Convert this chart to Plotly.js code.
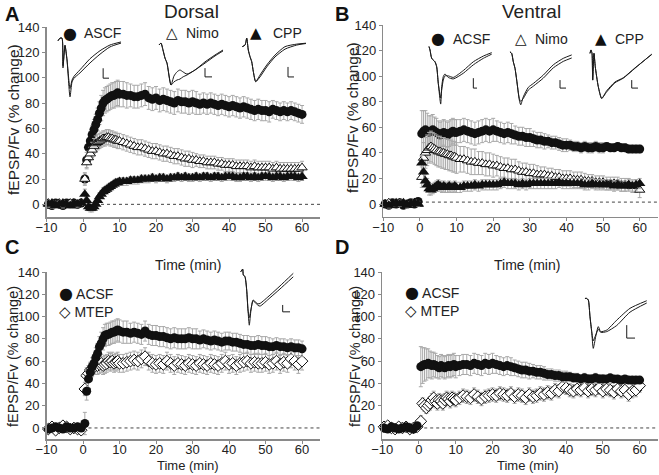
<!DOCTYPE html>
<html><head><meta charset="utf-8">
<script src="https://cdn.plot.ly/plotly-3.0.1.min.js"></script>
<style>html,body{margin:0;padding:0;background:#fff}#plot{width:659px;height:475px}</style>
</head><body><div id="plot"></div>
<script>
// ---- time axis (min) ----
const T = [-9.5,-8.5,-7.5,-6.5,-5.5,-4.5,-3.5,-2.5,-1.5,-0.5,
 0.5,1,1.5,2,2.5,3,3.5,4,4.5,5, 5.5,6,6.5,7,7.5,8,8.5,9,9.5,10,
 11,12,13,14,15,16,17,18,19,20, 21,22,23,24,25,26,27,28,29,30,
 31,32,33,34,35,36,37,38,39,40, 41,42,43,44,45,46,47,48,49,50,
 51,52,53,54,55,56,57,58,59,60];
const xTicks = [-10,0,10,20,30,40,50,60];
const yTicks = [0,20,40,60,80,100,120,140];

// ---- Panel A: Dorsal ----
const A_ascf = [0,-1,1,0,-1,1,0,1,0,1, 20,35,45,50,55,59,63,67,72,76, 80,82,83,84,85,86,86,87,88,87, 87,86,86,85,85,86,87,84,83,84, 82,83,82,81,80,82,81,81,80,81, 80,79,80,79,80,79,78,79,78,77, 78,77,76,77,76,75,74,75,74,74, 73,75,74,73,74,73,74,73,72,71];
const A_ascf_err = [2,2,2,2,2,2,2,2,2,2, 5,6,6,7,7,8,8,9,9,10, 10,10,10,10,10,10,10,10,10,10, 10,10,9,9,9,9,9,9,9,9, 9,9,9,9,9,9,9,9,9,9, 9,8,8,8,8,8,8,8,8,8, 8,8,8,8,8,8,8,8,8,8, 8,7,7,7,7,7,7,7,7,7];
const A_nimo = [1,-1,0,1,-1,0,1,-1,0,1, 20,33,37,40,43,46,48,49,50,51, 52,52,53,53,52,52,51,51,50,50, 49,48,47,46,45,45,44,43,42,42, 41,40,40,39,38,38,37,36,36,35, 35,34,34,33,33,33,32,32,31,31, 31,30,30,30,30,29,30,29,29,29, 29,28,29,28,28,28,28,28,28,29];
const A_nimo_err = [2,2,2,2,2,2,2,2,2,2, 4,5,5,5,6,6,6,6,6,6, 6,6,6,6,6,6,6,6,6,6, 6,6,6,6,6,6,6,6,6,6, 6,6,6,6,6,6,6,6,6,6, 5,5,5,5,5,5,5,5,5,5, 5,5,5,5,5,5,5,5,5,5, 5,5,5,5,5,5,5,5,5,5];
const A_cpp = [0,1,-1,0,1,0,-1,1,0,1, 8,3,-2,-3,-3,-2,0,3,6,8, 10,11,12,13,14,15,16,17,17,18, 18,18,19,19,19,20,20,20,21,20, 21,21,20,21,21,22,21,22,21,21, 22,21,22,22,21,22,22,21,22,22, 22,21,21,22,22,21,22,21,22,22, 22,21,22,22,21,22,22,22,21,22];
const A_cpp_err = [2,2,2,2,2,2,2,2,2,2, 4,3,3,3,3,3,3,3,3,3, 3,3,3,3,3,3,3,3,3,3, 3,3,3,3,3,3,3,3,3,3, 3,3,3,3,3,3,3,3,3,3, 3,3,3,3,3,3,3,3,3,3, 3,3,3,3,3,3,3,3,3,3, 3,3,3,3,3,3,3,3,3,3];

// ---- Panel B: Ventral ----
const B_acsf = [0,-1,1,0,1,-1,0,1,0,2, 55,57,58,57,56,57,58,57,56,55, 54,55,56,55,54,55,56,57,56,56, 57,58,57,56,55,56,57,58,57,58, 57,56,55,56,55,54,53,53,52,52, 51,50,50,49,49,48,48,47,46,46, 46,45,45,44,45,44,44,45,44,44, 45,44,44,45,44,44,43,43,43,43];
const B_acsf_err = [2,2,2,2,2,2,2,2,2,2, 18,16,15,14,13,12,12,11,11,10, 10,10,10,10,10,10,10,10,10,10, 9,9,9,9,9,9,9,9,9,9, 8,8,8,8,8,7,7,7,7,7, 6,6,6,6,5,5,5,5,5,5, 4,4,4,4,4,4,4,4,4,4, 3,3,3,3,3,3,3,3,3,3];
const B_nimo = [0,1,-1,0,1,0,-1,0,1,0, 21,36,40,42,44,45,44,43,42,41, 41,40,40,39,39,38,38,37,37,36, 35,35,34,33,33,32,32,31,31,30, 30,29,28,28,27,27,26,25,25,24, 24,23,23,23,22,22,21,21,20,20, 20,19,19,19,18,18,18,17,17,17, 16,16,16,16,15,15,15,14,14,11];
const B_nimo_err = [2,2,2,2,2,2,2,2,2,2, 8,12,12,12,12,12,12,12,12,12, 12,12,12,12,12,12,12,12,12,12, 10,10,10,10,10,9,9,9,9,9, 8,8,8,8,8,8,7,7,7,7, 7,7,6,6,6,6,6,6,6,6, 6,6,6,6,6,5,5,5,5,5, 5,5,5,5,5,5,5,5,5,6];
const B_cpp = [0,-1,0,1,0,1,-1,0,1,0, 32,25,18,15,12,11,12,13,14,15, 14,13,14,13,13,14,13,13,14,13, 13,14,14,14,15,14,15,15,15,15, 15,16,17,16,16,16,15,16,15,16, 16,16,16,16,16,16,16,17,16,16, 16,16,16,16,15,15,16,15,15,15, 15,15,14,15,14,14,15,14,15,16];
const B_cpp_err = [2,2,2,2,2,2,2,2,2,2, 6,6,5,5,5,4,4,4,4,4, 4,4,4,4,4,4,4,4,4,4, 4,4,4,4,4,4,4,4,4,4, 4,4,4,4,4,4,4,4,4,4, 4,4,4,4,4,4,4,4,4,4, 4,4,4,4,4,4,4,4,4,4, 4,4,4,4,4,4,4,4,4,4];

// ---- Panel C: Dorsal MTEP ----
const C_acsf = [-1,0,1,0,-1,1,0,0,1,0, 4,33,44,50,55,58,63,67,73,76, 80,83,84,84,85,86,86,87,88,87, 86,86,85,86,85,84,87,84,83,83, 82,82,81,80,81,80,80,80,81,80, 80,79,80,79,78,79,78,77,78,78, 77,77,76,75,75,74,74,75,74,74, 73,73,74,73,73,72,73,72,72,71];
const C_acsf_err = [2,2,2,2,2,2,2,2,2,2, 10,8,8,8,8,8,9,9,9,10, 10,10,10,10,10,10,10,10,10,10, 10,10,9,9,9,9,9,9,9,9, 9,9,9,9,9,9,9,9,9,9, 9,8,8,8,8,8,8,8,8,8, 8,8,8,8,8,8,8,8,8,8, 8,7,7,7,7,7,7,7,7,7];
const C_mtep = [-1,1,-2,0,2,1,-1,0,-1,-2, 35,47,49,52,53,55,56,56,57,58, 56,57,58,60,59,60,58,59,60,58, 58,59,60,61,60,62,64,60,58,57, 58,57,60,58,56,58,57,56,58,57, 56,58,57,56,58,57,56,58,60,57, 58,56,58,59,60,58,59,58,58,59, 57,58,60,57,59,58,62,60,57,60];
const C_mtep_err = [3,3,3,3,3,3,3,3,3,3, 6,7,7,7,7,7,8,8,8,8, 8,8,8,8,8,8,8,8,8,8, 8,8,8,8,8,8,8,8,8,8, 8,8,8,8,8,8,8,8,8,8, 8,8,8,8,8,8,8,8,8,8, 8,8,8,8,8,8,8,8,8,8, 8,8,8,8,8,8,8,8,8,8];

// ---- Panel D: Ventral MTEP ----
const D_acsf = [0,-1,1,0,-1,0,1,0,-1,2, 55,56,57,57,58,57,56,57,56,55, 54,56,55,54,55,56,55,56,57,55, 56,57,57,56,58,57,56,58,57,58, 57,56,55,56,55,54,53,52,52,51, 51,50,50,49,48,48,47,47,46,46, 46,45,45,44,45,44,44,45,44,44, 44,45,44,44,43,44,43,43,43,43];
const D_acsf_err = [2,2,2,2,2,2,2,2,2,2, 18,16,15,14,13,12,12,11,11,10, 10,10,10,10,10,10,10,10,10,10, 9,9,9,9,9,9,9,9,9,9, 8,8,8,8,8,7,7,7,7,7, 6,6,6,6,5,5,5,5,5,5, 4,4,4,4,4,4,4,4,4,4, 3,3,3,3,3,3,3,3,3,3];
const D_mtep = [1,2,0,-1,1,0,1,-1,0,1, 6,22,20,18,20,22,25,27,24,22, 25,24,22,25,27,26,24,27,26,25, 27,29,28,27,30,28,26,28,29,30, 29,31,30,29,31,28,30,29,27,30, 28,29,31,30,32,31,34,33,37,36, 34,33,35,34,36,33,35,34,36,33, 35,34,32,35,33,34,30,33,34,38];
const D_mtep_err = [2,2,2,2,2,2,2,2,2,2, 5,5,5,5,5,6,6,6,6,6, 6,6,6,6,6,6,6,6,6,6, 6,6,6,6,6,6,6,6,6,6, 6,6,6,6,6,6,6,6,6,6, 6,6,6,6,6,6,6,6,6,6, 6,6,6,6,6,6,6,6,6,6, 6,6,6,6,6,6,6,6,6,6];

// ---- inset waveforms (ms, mV) ----
const insA1_t = [0.15,0.46,0.77,0.92,1.23,1.54,2.0,2.31,2.62,3.54,5.08,6.62,8.15,9.85];
const insA1_post = [0,0.07,0.07,-0.71,-0.11,-0.5,-1.47,-1.08,-0.98,-0.84,-0.58,-0.35,-0.16,-0.06];
const insA1_pre = [0,0.07,0.07,-0.65,-0.13,-0.5,-1.25,-1.03,-0.93,-0.76,-0.47,-0.26,-0.11,-0.03];
const sbA1_t = [7.1,7.1,8.0], sbA1_v = [-0.72,-0.98,-0.98];
const insA2_t = [0.29,0.59,0.88,1.18,1.47,2.06,2.5,2.94,3.38,3.82,4.41,5.59,7.06,8.53,9.71];
const insA2_post = [-0.06,0.0,-0.22,-0.48,-0.64,-1.34,-1.05,-0.92,-0.86,-0.92,-0.99,-0.86,-0.6,-0.38,-0.22];
const insA2_pre = [-0.06,0.0,-0.22,-0.48,-0.64,-1.34,-1.24,-1.18,-1.15,-1.08,-1.02,-0.86,-0.64,-0.41,-0.25];
const sbA2_t = [7.06,7.06,8.09], sbA2_v = [-0.8,-1.08,-1.08];
const insA3_t = [0.34,0.74,0.99,1.22,1.47,1.72,1.96,2.31,2.94,3.93,5.15,6.62,8.34,9.7];
const insA3_post = [-0.24,-0.19,0.03,-0.35,-0.56,-0.72,-1.04,-1.36,-1.15,-0.83,-0.51,-0.24,-0.16,-0.13];
const insA3_pre = [-0.24,-0.19,0.03,-0.35,-0.56,-0.72,-1.04,-1.36,-1.21,-0.89,-0.57,-0.32,-0.19,-0.14];
const sbA3_t = [7.06,7.06,7.94], sbA3_v = [-0.89,-1.21,-1.21];
const insB1_t = [0.44,0.59,0.84,1.32,1.57,1.81,2.16,2.31,2.54,2.79,3.28,4.01,5.49,6.96,8.43,9.66];
const insB1_post = [0.06,-0.03,-0.25,-0.34,-0.47,-0.91,-1.45,-0.99,-0.73,-0.66,-0.75,-0.79,-0.64,-0.42,-0.25,-0.14];
const insB1_pre = [0.06,-0.03,-0.25,-0.34,-0.47,-0.91,-1.29,-1.08,-0.82,-0.71,-0.71,-0.75,-0.57,-0.34,-0.19,-0.1];
const sbB1_t = [6.96,6.96,7.5], sbB1_v = [-0.77,-1.03,-1.03];
const insB2_t = [0.29,0.54,0.78,1.03,1.28,1.66,1.87,2.25,2.99,3.72,5.19,6.66,8.13,9.37];
const insB2_post = [-0.08,-0.12,-0.34,-0.51,-0.82,-1.34,-1.47,-1.26,-1.01,-0.91,-0.69,-0.42,-0.25,-0.16];
const insB2_pre = [-0.08,-0.12,-0.34,-0.51,-0.82,-1.3,-1.38,-1.3,-1.08,-0.98,-0.77,-0.5,-0.33,-0.24];
const sbB2_t = [7.65,7.65,8.53], sbB2_v = [-0.82,-1.03,-1.03];
const insB3_t = [0.29,0.44,0.59,0.69,0.88,1.07,1.51,2.01,2.75,3.97,5.19,6.91,9.37];
const insB3_post = [-0.12,-0.03,-0.12,-0.82,-0.12,-0.47,-0.99,-1.3,-1.13,-0.89,-0.77,-0.51,-0.14];
const insB3_pre = [-0.12,-0.03,-0.12,-0.82,-0.12,-0.47,-0.99,-1.3,-1.1,-0.87,-0.76,-0.5,-0.15];
const sbB3_t = [6.43,6.43,7.35], sbB3_v = [-0.82,-1.03,-1.03];
const insC_t = [0.4,0.69,0.78,1.03,1.28,1.47,1.66,1.91,2.21,2.5,2.94,3.24,4.71,6.18,8.13];
const insC_post = [0.0,0.07,-0.08,-0.13,-0.48,-1.0,-1.4,-1.0,-0.74,-0.78,-0.84,-0.83,-0.61,-0.37,-0.04];
const insC_pre = [0.0,0.07,-0.08,-0.13,-0.48,-1.0,-1.2,-0.98,-0.76,-0.8,-0.88,-0.9,-0.68,-0.45,-0.13];
const sbC_t = [6.57,6.57,7.65], sbC_v = [-0.87,-1.05,-1.05];
const insD_t = [0.29,0.54,0.78,1.03,1.28,1.51,1.87,2.25,2.6,3.49,4.96,6.91,9.37];
const insD_post = [0.01,0.01,-0.03,-0.47,-0.86,-1.3,-0.99,-0.73,-0.86,-0.82,-0.56,-0.25,-0.05];
const insD_pre = [0.01,0.01,-0.03,-0.47,-0.86,-1.1,-0.95,-0.8,-0.88,-0.86,-0.7,-0.35,-0.11];
const sbD_t = [6.43,6.43,7.65], sbD_v = [-0.69,-1.03,-1.03];

// ---- build ----
const W = 659, H = 475;
const px = p => p / W, py = p => 1 - p / H;
const FONT = 'Arial, "Liberation Sans", Helvetica, sans-serif';
const ERRC = '#a8a8a8';
const traces = [];

function series(ax, y, err, sym, fill, size) {
  traces.push({
    type: 'scatter', mode: 'markers', x: T, y: y,
    xaxis: 'x' + (ax === 1 ? '' : ax), yaxis: 'y' + (ax === 1 ? '' : ax),
    error_y: {type: 'data', array: err, visible: true, color: ERRC, thickness: 1, width: 2},
    marker: {symbol: sym, size: size, color: fill, line: {color: '#111', width: fill === '#111' ? 0 : 1}},
    hoverinfo: 'skip', cliponaxis: false
  });
}
series(1, A_ascf, A_ascf_err, 'circle', '#111', 9);
series(1, A_nimo, A_nimo_err, 'triangle-up', '#fff', 9);
series(1, A_cpp, A_cpp_err, 'triangle-up', '#111', 10);
series(2, B_acsf, B_acsf_err, 'circle', '#111', 9);
series(2, B_nimo, B_nimo_err, 'triangle-up', '#fff', 9);
series(2, B_cpp, B_cpp_err, 'triangle-up', '#111', 10);
series(3, C_mtep, C_mtep_err, 'diamond', '#fff', 9);
series(3, C_acsf, C_acsf_err, 'circle', '#111', 9);
series(4, D_mtep, D_mtep_err, 'diamond', '#fff', 9);
series(4, D_acsf, D_acsf_err, 'circle', '#111', 9);

const insets = [
  {box:[57,122,37,98], t:insA1_t, a:insA1_pre, b:insA1_post, st:sbA1_t, sv:sbA1_v},
  {box:[157,225,40,90], t:insA2_t, a:insA2_pre, b:insA2_post, st:sbA2_t, sv:sbA2_v},
  {box:[240,308,36,86], t:insA3_t, a:insA3_pre, b:insA3_post, st:sbA3_t, sv:sbA3_v},
  {box:[426,494,45,106], t:insB1_t, a:insB1_pre, b:insB1_post, st:sbB1_t, sv:sbB1_v},
  {box:[508,576,45,106], t:insB2_t, a:insB2_pre, b:insB2_post, st:sbB2_t, sv:sbB2_v},
  {box:[588,656,45,106], t:insB3_t, a:insB3_pre, b:insB3_post, st:sbB3_t, sv:sbB3_v},
  {box:[238,306,268,329], t:insC_t, a:insC_pre, b:insC_post, st:sbC_t, sv:sbC_v},
  {box:[583,651,295,356], t:insD_t, a:insD_pre, b:insD_post, st:sbD_t, sv:sbD_v}
];

const axisBase = {
  showline: true, linecolor: '#8a8a8a', linewidth: 1.5, ticks: 'outside', ticklen: 3,
  tickcolor: '#8a8a8a', tickwidth: 1, showgrid: false, zeroline: false,
  tickfont: {family: FONT, size: 13, color: '#222'}, fixedrange: true
};
const layout = {
  width: W, height: H, margin: {l:0, r:0, t:0, b:0},
  paper_bgcolor: '#fff', plot_bgcolor: 'rgba(0,0,0,0)', showlegend: false,
  font: {family: FONT, color: '#222'},
  shapes: [], annotations: []
};
function mkAxes(n, xd, yd, yr) {
  const s = n === 1 ? '' : n;
  layout['xaxis' + s] = Object.assign({}, axisBase, {domain: xd, range: [-10, 65], tickvals: xTicks, anchor: 'y' + s, ticklabelstandoff: -5});
  layout['yaxis' + s] = Object.assign({}, axisBase, {domain: yd, range: yr, tickvals: yTicks, anchor: 'x' + s});
}
mkAxes(1, [px(46.5), px(320.3)], [py(217), py(27)], [-10, 140]);
mkAxes(2, [px(383.3), px(658)], [py(216.8), py(25)], [-10, 140]);
mkAxes(3, [px(46.5), px(320.3)], [py(439.1), py(272)], [-10, 140]);
mkAxes(4, [px(382.2), px(658)], [py(439.1), py(272)], [-10, 140]);

// inset axes
insets.forEach((ins, i) => {
  const n = 5 + i;
  layout['xaxis' + n] = {domain: [px(ins.box[0]), px(ins.box[1])], range: [0, 10], visible: false, fixedrange: true, anchor: 'y' + n};
  layout['yaxis' + n] = {domain: [py(ins.box[3]), py(ins.box[2])], range: [-1.5, 0.1], visible: false, fixedrange: true, anchor: 'x' + n};
  [ins.a, ins.b].forEach(v => traces.push({type:'scatter', mode:'lines', x: ins.t, y: v, xaxis:'x'+n, yaxis:'y'+n,
    line:{color:'#1a1a1a', width:1, shape:'spline', smoothing:0.6}, hoverinfo:'skip'}));
  traces.push({type:'scatter', mode:'lines', x: ins.st, y: ins.sv, xaxis:'x'+n, yaxis:'y'+n,
    line:{color:'#1a1a1a', width:1}, hoverinfo:'skip'});
});

// dotted zero lines
[[1,0,0],[2,0,1.5],[3,-10,0],[4,-10,0]].forEach(([n, x0, y0]) => {
  const s = n === 1 ? '' : n;
  layout.shapes.push({type:'line', xref:'x'+s, yref:'y'+s, x0:x0, x1:65, y0:y0, y1:y0,
    line:{color:'#444', width:1, dash:'dot'}, layer:'below'});
});

function ann(text, x, y, opts) {
  layout.annotations.push(Object.assign({text: text, x: px(x), y: py(y), xref:'paper', yref:'paper',
    showarrow:false, xanchor:'center', yanchor:'middle', font:{family:FONT, size:13, color:'#222'}}, opts || {}));
}
// panel letters & titles
ann('<b>A</b>', 12, 14, {font:{family:FONT, size:20, color:'#111'}});
ann('<b>B</b>', 342, 14, {font:{family:FONT, size:20, color:'#111'}});
ann('<b>C</b>', 12, 247, {font:{family:FONT, size:20, color:'#111'}});
ann('<b>D</b>', 342, 247, {font:{family:FONT, size:20, color:'#111'}});
ann('Dorsal', 191, 11, {font:{family:FONT, size:19, color:'#222'}});
ann('Ventral', 531, 11, {font:{family:FONT, size:19, color:'#222'}});
// y titles
ann('fEPSP/Fv (% change)', 13, 120, {textangle:-90, font:{family:FONT, size:15.5, color:'#222'}});
ann('fEPSP/Fv (% change)', 352, 118, {textangle:-90, font:{family:FONT, size:15.5, color:'#222'}});
ann('fEPSP/Fv (% change)', 13, 357, {textangle:-90, font:{family:FONT, size:14.5, color:'#222'}});
ann('fEPSP/Fv (% change)', 355, 357, {textangle:-90, font:{family:FONT, size:14.5, color:'#222'}});
// x titles
ann('Time (min)', 188, 265, {font:{family:FONT, size:14, color:'#222'}});
ann('Time (min)', 527, 265, {font:{family:FONT, size:14, color:'#222'}});
ann('Time (min)', 188, 465, {font:{family:FONT, size:13, color:'#222'}});
ann('Time (min)', 528, 465, {font:{family:FONT, size:13, color:'#222'}});
// legends
const symStyle = "font-family:'DejaVu Sans';font-size:16px;fill:#111";
const symStyleS = "font-family:'DejaVu Sans';font-size:15px;fill:#111";
const labF = {family:FONT, size:14, color:'#222'};
function leg(sym, ssz, sx, label, lx, y) {
  ann(sym, sx, y, {font: {family:'"DejaVu Sans", sans-serif', size:ssz, color:'#111'}});
  ann(label, lx, y, {xanchor:'left', font: labF});
}
leg('●', 16, 70, 'ASCF', 82, 33);
leg('△', 15, 172, 'Nimo', 184, 33);
leg('▲', 15, 256, 'CPP', 271, 33);
leg('●', 16, 438, 'ACSF', 451, 39);
leg('△', 15, 521, 'Nimo', 533, 39);
leg('▲', 15, 601, 'CPP', 613, 39);
// stacked two-line legends (C, D) as single blocks
function legBlock(x, y, labels) {
  ann(labels.map(([s, l, st]) => `<span style="${st}">${s}</span> ${l}`).join('<br>'), x, y,
    {xanchor:'left', yanchor:'top', align:'left', font: labF});
}
legBlock(57, 282, [['●', 'ACSF', symStyle], ['◇', 'MTEP', symStyleS]]);
legBlock(403, 281, [['●', 'ACSF', symStyle], ['◇', 'MTEP', symStyleS]]);

Plotly.newPlot('plot', traces, layout, {staticPlot: true, displayModeBar: false});
</script></body></html>
